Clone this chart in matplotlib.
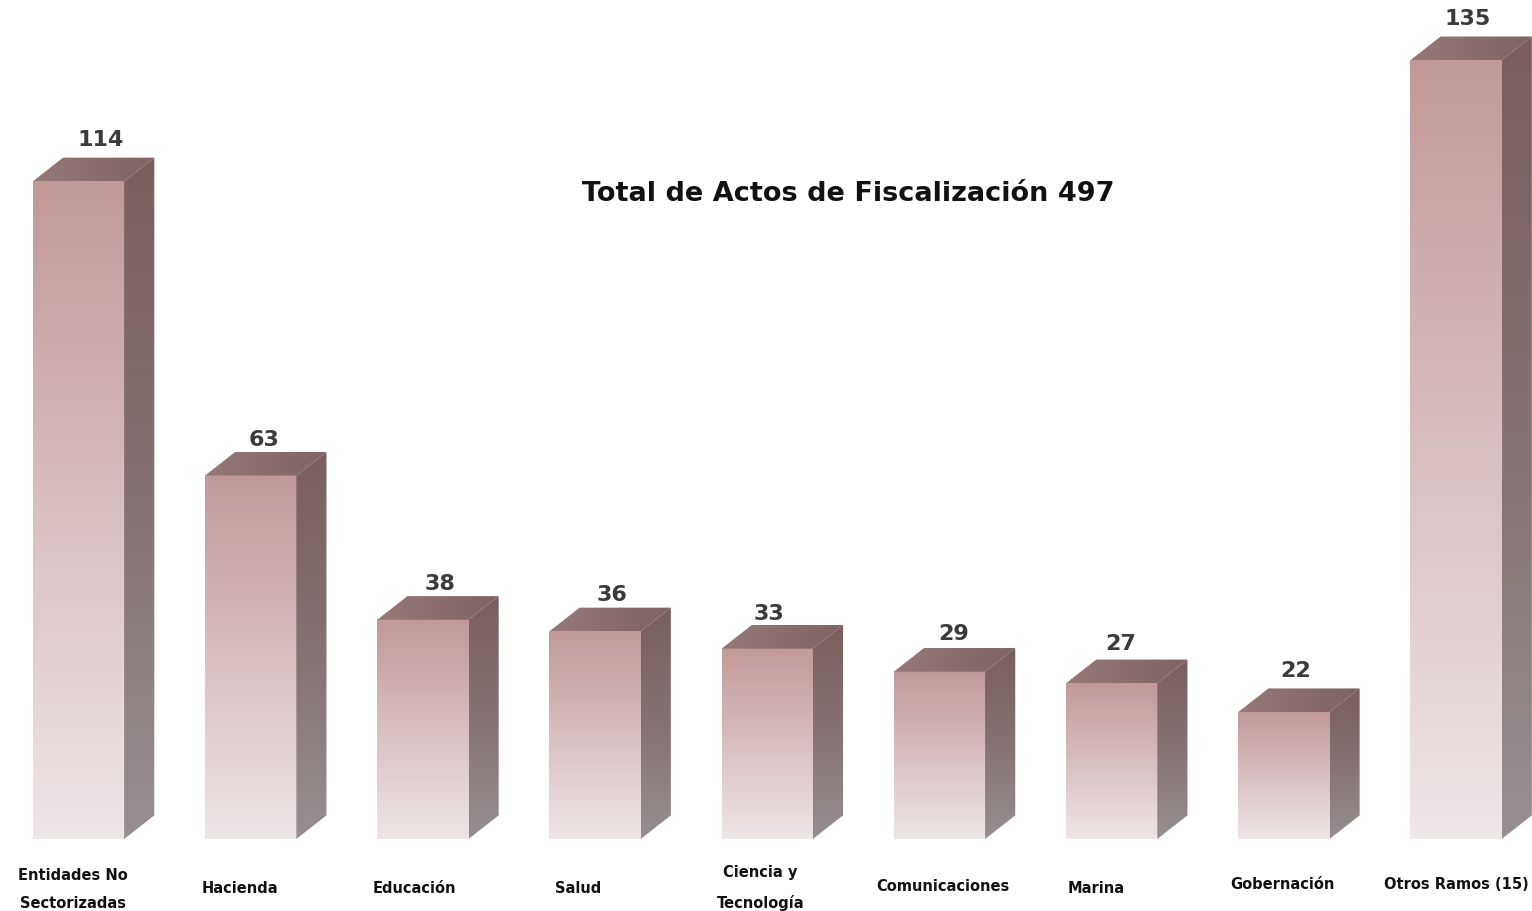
import numpy as np
import matplotlib.pyplot as plt
from matplotlib.patches import Polygon
from matplotlib.colors import LinearSegmentedColormap

categorias = ['Entidades No\nSectorizadas', 'Hacienda', 'Educación', 'Salud',
              'Ciencia y\nTecnología', 'Comunicaciones', 'Marina', 'Gobernación',
              'Otros Ramos (15)']
valores = [114, 63, 38, 36, 33, 29, 27, 22, 135]
titulo = 'Total de Actos de Fiscalización 497'

plt.rcParams['font.family'] = ['DejaVu Sans']

fig = plt.figure(figsize=(15.32, 9.12), dpi=100)
ax = fig.add_axes([0, 0, 1, 1])
ax.set_xlim(-0.456, 8.441)
ax.set_ylim(-12.48, 145.6)
ax.axis('off')

w = 0.53      # front face width
dx = 0.175    # depth in x
dy = 4.1      # depth in y

front_cm = LinearSegmentedColormap.from_list('f', ['#c29999', '#d8bfc0', '#efe6e7'])
side_cm = LinearSegmentedColormap.from_list('s', ['#7a5e5e', '#857272', '#978f90'])
top_cm = LinearSegmentedColormap.from_list('t', ['#967878', '#7e6464'])
grad = np.linspace(0, 1, 256).reshape(-1, 1)
hgrad = np.linspace(0, 1, 256).reshape(1, -1)

# small per-bar shifts of the value labels, as in the original
val_dx = [0.13, 0.08, 0.1, 0.1, 0.01, 0.08, 0.05, 0.07, 0.07]
val_dy = [1.5, 0.5, 0.6, 0.6, 0.4, 0.8, 1.1, 1.4, 1.5]

for i, v in enumerate(valores):
    x0, x1 = i - w / 2, i + w / 2
    # front face
    ax.imshow(grad, cmap=front_cm, aspect='auto', extent=(x0, x1, 0, v),
              origin='upper', zorder=2, interpolation='bilinear')
    # side face
    side = Polygon([(x1, 0), (x1 + dx, dy), (x1 + dx, v + dy), (x1, v)],
                   closed=True, facecolor='none', edgecolor='none')
    ax.add_patch(side)
    im = ax.imshow(grad, cmap=side_cm, aspect='auto',
                   extent=(x1, x1 + dx, 0, v + dy), origin='upper', zorder=2,
                   interpolation='bilinear')
    im.set_clip_path(side)
    # top face
    top = Polygon([(x0, v), (x1, v), (x1 + dx, v + dy), (x0 + dx, v + dy)],
                  closed=True, facecolor='none', edgecolor='none')
    ax.add_patch(top)
    im = ax.imshow(hgrad, cmap=top_cm, aspect='auto',
                   extent=(x0, x1 + dx, v, v + dy), origin='upper', zorder=3,
                   interpolation='bilinear')
    im.set_clip_path(top)
    ax.text(i + val_dx[i], v + dy + val_dy[i], str(v), ha='center', va='bottom',
            fontsize=16, fontweight='bold', color='#3b3b3b')

label_y = [-8.6, -8.4, -8.4, -8.4, -8.3, -8.1, -8.4, -7.8, -7.8]
label_dx = [-0.03, -0.06, -0.05, -0.1, -0.04, 0.02, -0.09, -0.01, 0.0]
for i, (c, ly) in enumerate(zip(categorias, label_y)):
    ax.text(i + label_dx[i], ly, c, ha='center', va='center', fontsize=10.5,
            fontweight='bold', color='#111111', linespacing=2.1)

ax.text(4.47, 112.0, titulo, ha='center', va='center', fontsize=19.5,
        fontweight='bold', color='#111111')

fig.savefig('out.png', dpi=100)
